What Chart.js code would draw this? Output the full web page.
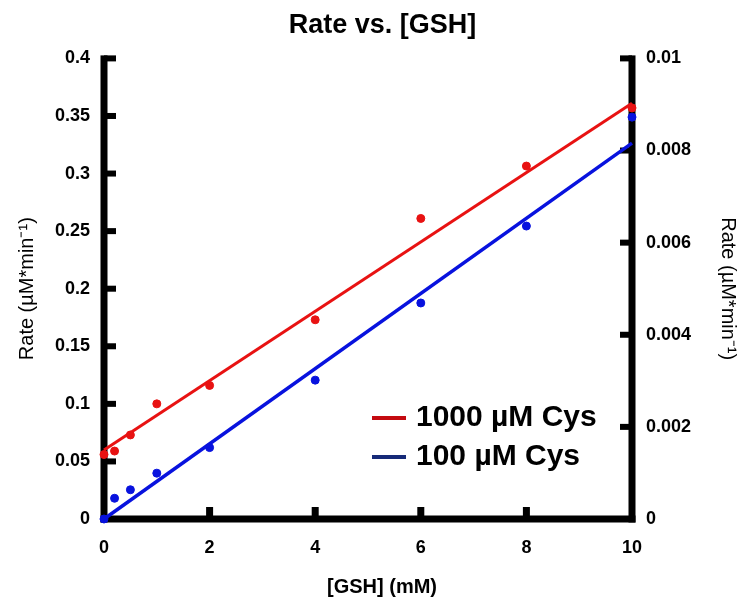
<!DOCTYPE html>
<html>
<head>
<meta charset="utf-8">
<script src="https://cdn.jsdelivr.net/npm/chart.js@4.4.0/dist/chart.umd.min.js"></script>
<style>
  html, body { margin: 0; padding: 0; background: #fff; }
  #wrap { width: 745px; height: 598px; }
</style>
</head>
<body>
<div id="wrap"><canvas id="chart" width="745" height="598"></canvas></div>
<script>
// [GSH] in mM
const gsh = [0, 0.2, 0.5, 1, 2, 4, 6, 8, 10];
// 1000 uM Cys, left axis
const rate1000 = [0.056, 0.059, 0.073, 0.1, 0.116, 0.173, 0.261, 0.3065, 0.357];
// 100 uM Cys, right axis
const rate100 = [0, 0.00045, 0.000635, 0.000995, 0.00155, 0.003015, 0.00469, 0.00636, 0.008725];
// linear fits
const fitX = [0, 10];
const fit1000 = [0.06, 0.361];
const fit100 = [0, 0.00816];

const seriesNames = ['1000 µM Cys', '100 µM Cys'];
const xTitle = '[GSH] (mM)';
const FONT = '"Liberation Sans", Arial, sans-serif';

const red = 'rgb(232,18,18)';
const blue = 'rgb(8,18,222)';
const legendColors = ['rgb(196,10,16)', 'rgb(22,42,120)'];

const pts = (xs, ys) => xs.map((x, i) => ({ x: x, y: ys[i] }));
const fmt = v => String(+(+v).toFixed(5));

// axes + inward ticks + x title + legend
const axisPlugin = {
    id: 'axisPlugin',
    beforeDatasetsDraw(chart) {
        const ctx = chart.ctx;
        const a = chart.chartArea;
        const { x, y, y1 } = chart.scales;
        ctx.save();
        ctx.fillStyle = '#000';
        ctx.fillRect(a.left - 3.5, a.top - 3, 7, a.bottom - a.top + 6.5);
        ctx.fillRect(a.right - 3.5, a.top - 3, 7, a.bottom - a.top + 6.5);
        ctx.fillRect(a.left - 3.5, a.bottom - 3.5, a.right - a.left + 7, 7);
        y.ticks.forEach(t => {
            if (t.value <= 0) return;
            const py = y.getPixelForValue(t.value);
            ctx.fillRect(a.left, py - 3, 12, 6);
        });
        y1.ticks.forEach(t => {
            if (t.value <= 0) return;
            const py = y1.getPixelForValue(t.value);
            ctx.fillRect(a.right - 12, py - 3, 12, 6);
        });
        x.ticks.forEach(t => {
            if (t.value <= 0 || t.value >= 10) return;
            const px = x.getPixelForValue(t.value);
            ctx.fillRect(px - 3.5, a.bottom - 12, 7, 12);
        });
        ctx.restore();
    },
    afterDraw(chart) {
        const ctx = chart.ctx;
        const a = chart.chartArea;
        ctx.save();
        ctx.fillStyle = '#000';
        ctx.font = 'bold 20px ' + FONT;
        ctx.textAlign = 'center';
        ctx.textBaseline = 'middle';
        ctx.fillText(xTitle, (a.left + a.right) / 2 + 14, 587);

        ctx.font = 'bold 30px ' + FONT;
        ctx.textAlign = 'left';
        seriesNames.forEach((name, i) => {
            const ly = 418 + i * 39;
            ctx.fillStyle = legendColors[i];
            ctx.fillRect(372, ly - 2, 34, 4);
            ctx.fillStyle = '#000';
            ctx.fillText(name, 416, ly);
        });
        ctx.restore();
    }
};

const ctx = document.getElementById('chart').getContext('2d');
new Chart(ctx, {
    type: 'scatter',
    data: {
        datasets: [
            {
                label: seriesNames[0] + ' fit',
                data: pts(fitX, fit1000),
                showLine: true,
                borderColor: red,
                borderWidth: 3,
                pointRadius: 0,
                yAxisID: 'y',
                clip: false
            },
            {
                label: seriesNames[1] + ' fit',
                data: pts(fitX, fit100),
                showLine: true,
                borderColor: blue,
                borderWidth: 3.5,
                pointRadius: 0,
                yAxisID: 'y1',
                clip: false
            },
            {
                label: seriesNames[0],
                data: pts(gsh, rate1000),
                backgroundColor: red,
                borderColor: red,
                pointRadius: 4,
                yAxisID: 'y',
                clip: false
            },
            {
                label: seriesNames[1],
                data: pts(gsh, rate100),
                backgroundColor: blue,
                borderColor: blue,
                pointRadius: 4,
                yAxisID: 'y1',
                clip: false
            }
        ]
    },
    options: {
        responsive: false,
        animation: false,
        layout: { padding: { left: 20, right: 0, top: 0, bottom: 0 } },
        plugins: {
            legend: { display: false },
            tooltip: { enabled: false },
            title: {
                display: true,
                text: 'Rate vs. [GSH]',
                color: '#000',
                font: { family: FONT, size: 27, weight: 'bold' },
                padding: { top: 9, bottom: 17 }
            }
        },
        scales: {
            x: {
                type: 'linear',
                min: 0,
                max: 10,
                ticks: {
                    stepSize: 2,
                    color: '#000',
                    padding: 18,
                    maxRotation: 0,
                    font: { family: FONT, size: 18, weight: 'bold' }
                },
                grid: { display: false, drawTicks: false },
                border: { display: false },
                title: { display: false },
                afterFit(s) { s.height = 79; }
            },
            y: {
                position: 'left',
                min: 0,
                max: 0.4,
                ticks: {
                    stepSize: 0.05,
                    color: '#000',
                    padding: 14,
                    callback: fmt,
                    font: { family: FONT, size: 18, weight: 'bold' }
                },
                grid: { display: false, drawTicks: false },
                border: { display: false },
                title: {
                    display: true,
                    text: 'Rate (µM*min⁻¹)',
                    color: '#000',
                    font: { family: FONT, size: 20 },
                    padding: { top: -5, bottom: 0 }
                },
                afterFit(s) { s.width = 84; }
            },
            y1: {
                position: 'right',
                min: 0,
                max: 0.01,
                ticks: {
                    stepSize: 0.002,
                    color: '#000',
                    padding: 14,
                    callback: fmt,
                    font: { family: FONT, size: 18, weight: 'bold' }
                },
                grid: { display: false, drawTicks: false },
                border: { display: false },
                title: {
                    display: true,
                    text: 'Rate (µM*min⁻¹)',
                    color: '#000',
                    font: { family: FONT, size: 20 },
                    padding: { top: 5, bottom: 0 }
                },
                afterFit(s) { s.width = 113; }
            }
        }
    },
    plugins: [axisPlugin]
});
</script>
</body>
</html>
